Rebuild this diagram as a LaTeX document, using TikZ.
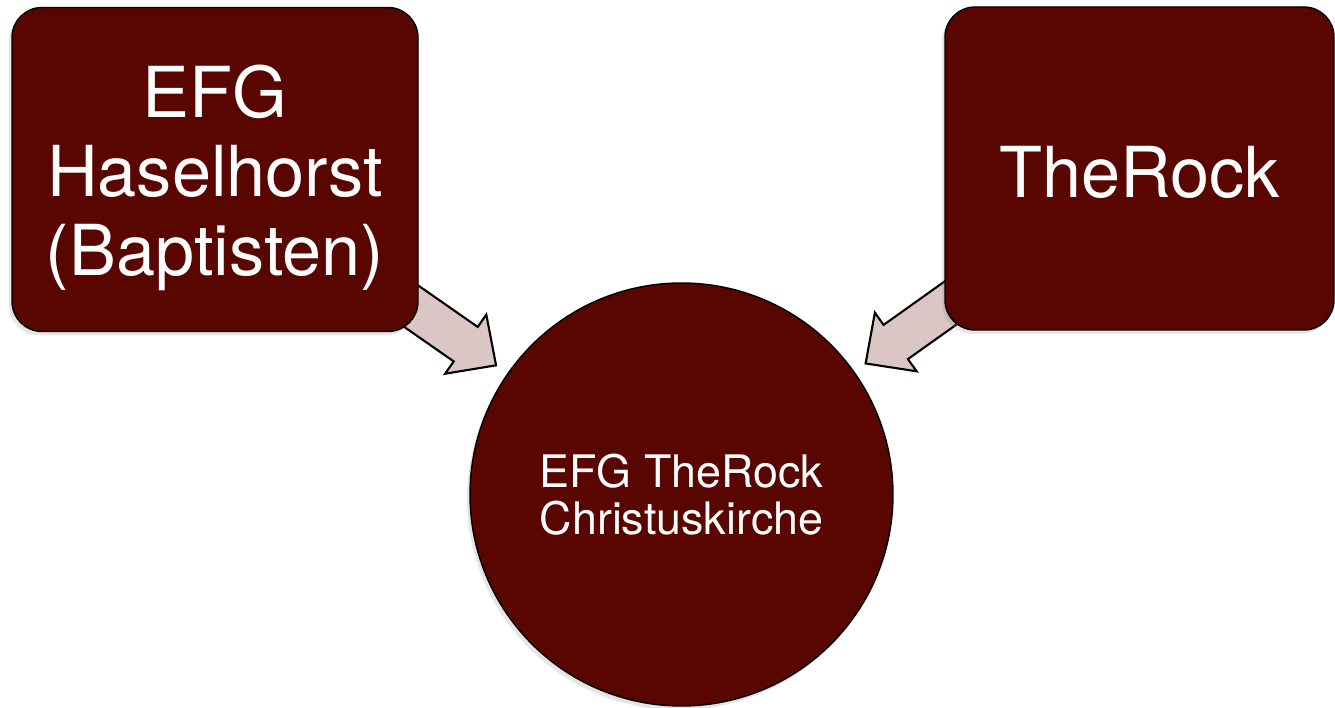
\documentclass[tikz,border=0pt]{standalone}
\usepackage{fontspec}
\setmainfont{TeX Gyre Heros}
\usetikzlibrary{calc,backgrounds,shadows}

\definecolor{weinrot}{RGB}{90,6,0}
\definecolor{pfeilrosa}{RGB}{218,198,197}

% block arrow from box #1 towards the circle #2
\newcommand{\zufluss}[2]{%
  \coordinate (t) at ($(#2.center)!7.12cm!(#1.center)$);
  \coordinate (s) at ($(#2.center)!4.52cm!(#1.center)$);
  \coordinate (b) at ($(s)!0.74cm!(t)$);
  \draw[pfeil] (s) -- ($(b)!0.72cm!90:(s)$) -- ($(b)!0.42cm!90:(s)$)
    -- ($(t)!0.42cm!90:(s)$) -- ($(t)!0.42cm!-90:(s)$)
    -- ($(b)!0.42cm!-90:(s)$) -- ($(b)!0.72cm!-90:(s)$) -- cycle;
}

\begin{document}
\begin{tikzpicture}
  \tikzstyle{kasten}=[rectangle, rounded corners=0.6cm, fill=weinrot, draw=black,
    line width=0.8pt, text=white, align=center, inner sep=0pt,
    font=\fontsize{40}{45}\selectfont,
    drop shadow={opacity=0.2, shadow xshift=-0.06cm, shadow yshift=-0.08cm}]
  \tikzstyle{mitte}=[circle, fill=weinrot, draw=black, line width=0.8pt,
    text=white, align=center, inner sep=0pt, minimum size=8.46cm,
    font=\fontsize{25.5}{26.7}\selectfont,
    drop shadow={opacity=0.2, shadow xshift=-0.06cm, shadow yshift=-0.08cm}]
  \tikzstyle{pfeil}=[fill=pfeilrosa, draw=black, line width=1.2pt, line join=miter]

  \useasboundingbox (0,0) rectangle (26.7,14.14);

  \node[kasten, minimum width=8.12cm, minimum height=6.48cm] (efg) at (4.3,10.75)
    {\rule{0pt}{1.4cm}EFG\\Haselhorst\\(Baptisten)};
  \node[kasten, minimum width=7.78cm, minimum height=6.46cm] (rock) at (22.79,10.77)
    {\rule{0pt}{1.2cm}TheRock};
  \node[mitte] (kirche) at (13.63,4.25) {EFG TheRock\\Christuskirche};

  \begin{scope}[on background layer]
    \zufluss{efg}{kirche}
    \zufluss{rock}{kirche}
  \end{scope}
\end{tikzpicture}
\end{document}
